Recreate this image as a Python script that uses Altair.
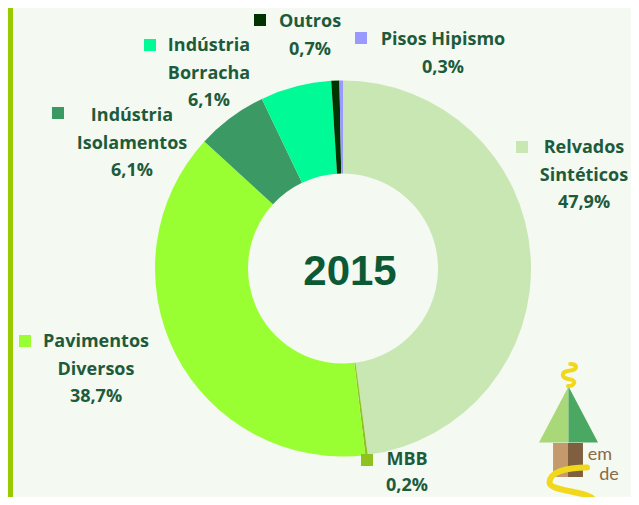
import altair as alt
import pandas as pd

# ---- data ----
categories = ["Relvados Sintéticos", "MBB", "Pavimentos Diversos",
              "Indústria Isolamentos", "Indústria Borracha", "Outros", "Pisos Hipismo"]
values = [47.9, 0.2, 38.7, 6.1, 6.1, 0.7, 0.3]
label_lines = [["Relvados", "Sintéticos", "47,9%"],
               ["MBB", "0,2%"],
               ["Pavimentos", "Diversos", "38,7%"],
               ["Indústria", "Isolamentos", "6,1%"],
               ["Indústria", "Borracha", "6,1%"],
               ["Outros", "0,7%"],
               ["Pisos Hipismo", "0,3%"]]
year = "2015"

# ---- style / layout ----
colors = ["#c9e7b3", "#8dc21f", "#99ff33", "#3b9a63", "#00fa96", "#003300", "#9999ff"]
TEXT = "#1d5b3b"
BG = "#f4f9f2"
FONT = "Open Sans"
M = 8  # page margin
W, H = 639 - 2 * M, 505 - 2 * M
CX, CY = 343 - M, 268.5 - M
R_OUT, R_IN = 188, 95
LINE = 27.7
text_anchor = [(584, 148), (407, 460), (96, 342), (132, 116), (209, 46), (310, 22), (443, 40)]
line_gap = [LINE, 25.5, LINE, LINE, LINE, LINE, LINE]
key_pos = [(522, 147), (367, 460), (25, 341), (58, 113), (150, 45), (260, 20), (361, 38)]

df = pd.DataFrame({"cat": categories, "val": values, "idx": list(range(len(values)))})
color_scale = alt.Scale(domain=categories, range=colors)

arcs = alt.Chart(df).mark_arc(outerRadius=R_OUT, innerRadius=R_IN).encode(
    theta=alt.Theta("val:Q", stack=True),
    order=alt.Order("idx:Q"),
    color=alt.Color("cat:N", scale=color_scale, legend=None),
    x=alt.value(CX), y=alt.value(CY),
)

rows = []
for cat, lines, (ax, ay), gap in zip(categories, label_lines, text_anchor, line_gap):
    for i, t in enumerate(lines):
        rows.append({"cat": cat, "t": t, "x": ax - M, "y": ay - M + i * gap})
tdf = pd.DataFrame(rows)

texts = alt.Chart(tdf).mark_text(font=FONT, fontSize=18, fontWeight="bold", color=TEXT,
                                 align="center", baseline="middle").encode(
    x=alt.X("x:Q", scale=None), y=alt.Y("y:Q", scale=None), text="t:N")

kdf = pd.DataFrame({"cat": categories,
                    "x": [p[0] - M for p in key_pos], "y": [p[1] - M for p in key_pos]})
keys = alt.Chart(kdf).mark_square(size=144, opacity=1, filled=True).encode(
    x=alt.X("x:Q", scale=None), y=alt.Y("y:Q", scale=None),
    color=alt.Color("cat:N", scale=color_scale, legend=None))

center = alt.Chart(pd.DataFrame({"t": [year]})).mark_text(
    font="Liberation Sans", fontSize=42, fontWeight="bold", color="#0b5a35",
    align="center", baseline="middle").encode(
    x=alt.value(350 - M), y=alt.value(272 - M), text="t:N")

bar = alt.Chart(pd.DataFrame({"a": [0]})).mark_rule(color="#99cc00", strokeWidth=5).encode(
    x=alt.value(2.5), y=alt.value(0), y2=alt.value(H))

# ---- decorative logo (bottom right) ----
def sym(path, size, x, y, fill=None, stroke=None, sw=0):
    kw = dict(shape=path, size=size, opacity=1)
    if fill:
        kw.update(filled=True, fill=fill, strokeWidth=0)
    else:
        kw.update(filled=False, stroke=stroke, strokeWidth=sw, strokeCap="round")
    return alt.Chart(pd.DataFrame({"a": [0]})).mark_point(**kw).encode(
        x=alt.value(x - M), y=alt.value(y - M))

logo = [
    sym("M0,-0.95 L-1,0.95 L0,0.95 Z", 59 * 59, 568.5, 414.5, fill="#a8d878"),
    sym("M0,-0.95 L1,0.95 L0,0.95 Z", 59 * 59, 568.5, 414.5, fill="#4aa862"),
    sym("M-0.88,-1 L0,-1 L0,1 L-0.88,1 Z", 34 * 34, 568, 460, fill="#c49a6c"),
    sym("M0,-1 L0.88,-1 L0.88,1 L0,1 Z", 34 * 34, 568, 460, fill="#7f5f3f"),
    sym("M0.2,-1 C0.9,-1 0.9,-0.5 0.2,-0.4 C-0.7,-0.3 -0.7,0.3 0.2,0.4 C0.8,0.5 0.6,1 0,1",
        22 * 22, 568, 375, stroke="#f2d81c", sw=4),
    sym("M0.6,-0.9 C-0.3,-0.9 -0.9,-0.7 -0.9,-0.3 C-0.9,0.1 0.9,0 0.9,0.5 C0.9,0.9 0,0.95 -0.8,0.95",
        50 * 50, 572, 490, stroke="#f2d81c", sw=6),
]
brand = alt.Chart(pd.DataFrame({"t": ["em", "de"], "x": [600 - M, 609 - M], "y": [455 - M, 475 - M]})).mark_text(
    font="Lato", fontSize=18, color="#8b6a45", align="center", baseline="middle").encode(
    x=alt.X("x:Q", scale=None), y=alt.Y("y:Q", scale=None), text="t:N")

chart = alt.layer(arcs, keys, texts, center, bar, *logo, brand).properties(
    width=W, height=H, background=BG, padding=0,
    autosize=alt.AutoSizeParams(type="none"),
).configure_view(stroke=None)

chart.save("out.html", embed_options={"renderer": "svg", "actions": False})
